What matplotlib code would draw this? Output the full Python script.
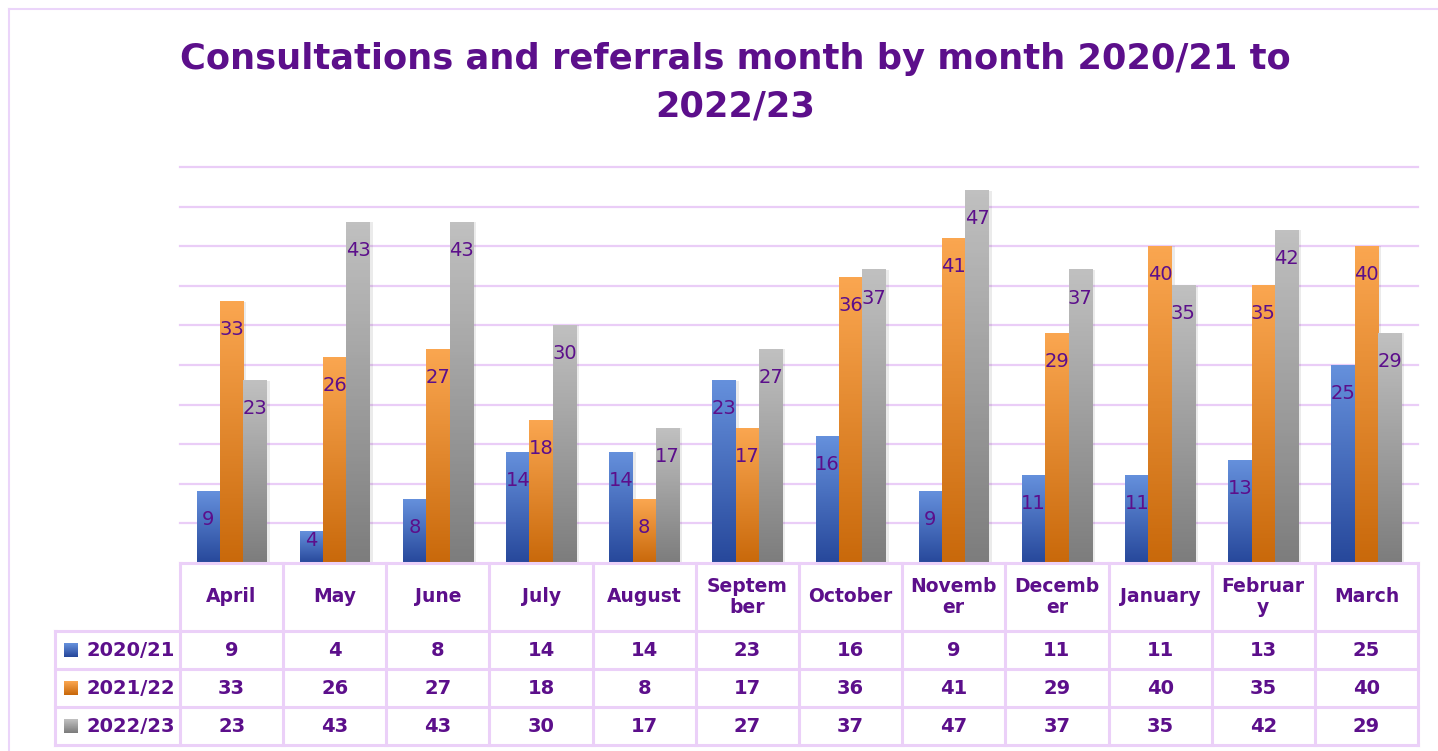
import numpy as np
import matplotlib
matplotlib.use("Agg")
import matplotlib.pyplot as plt
from matplotlib.colors import LinearSegmentedColormap
from matplotlib import transforms
from matplotlib.lines import Line2D
from matplotlib.patches import Rectangle

months = ["April", "May", "June", "July", "August", "September", "October",
          "November", "December", "January", "February", "March"]
month_labels = ["April", "May", "June", "July", "August", "Septem\nber", "October",
                "Novemb\ner", "Decemb\ner", "January", "Februar\ny", "March"]
series = ["2020/21", "2021/22", "2022/23"]
v2020 = [9, 4, 8, 14, 14, 23, 16, 9, 11, 11, 13, 25]
v2021 = [33, 26, 27, 18, 8, 17, 36, 41, 29, 40, 35, 40]
v2022 = [23, 43, 43, 30, 17, 27, 37, 47, 37, 35, 42, 29]
values = [v2020, v2021, v2022]

purple = "#5C0F8B"
grid_col = "#EACDF7"
# (top colour, bottom colour) for each series gradient
grads = [("#6590DC", "#27489B"), ("#FAA650", "#C9690B"), ("#C0C0C0", "#7D7D7D")]

W, H = 1438, 751
fig = plt.figure(figsize=(W / 100, H / 100), dpi=100)
ax = fig.add_axes([180 / W, (H - 563) / H, 1238 / W, 396 / H])

n = len(months)
x = np.arange(n)
bw = 0.226
offsets = [-bw, 0, bw]

for s, vals in enumerate(values):
    bars = ax.bar(x + offsets[s], vals, width=bw, color=grads[s][0], zorder=3,
                  linewidth=0)
    cmap = LinearSegmentedColormap.from_list("g%d" % s, [grads[s][1], grads[s][0]])
    for b, v in zip(bars, vals):
        x0, w, h = b.get_x(), b.get_width(), b.get_height()
        # soft shadow on the right
        ax.add_patch(Rectangle((x0 + w, 0), 0.03, h, color="#000000", alpha=0.08,
                               zorder=2, linewidth=0))
        ax.imshow(np.linspace(1, 0, 100).reshape(-1, 1), cmap=cmap, aspect="auto",
                  extent=[x0, x0 + w, 0, h], zorder=3.5, origin="upper")
        ax.text(x0 + w / 2, max(h - 3.55, 2.9), str(v), ha="center", va="center",
                color=purple, fontsize=14, zorder=5)

ax.set_xlim(-0.5, n - 0.5)
ax.set_ylim(0, 50)
for gy in np.arange(5, 51, 5):
    ax.axhline(gy, color=grid_col, linewidth=1.6, zorder=0, clip_on=False)
ax.tick_params(left=False, bottom=False, labelleft=False, labelbottom=False)
for sp in ["left", "right", "top"]:
    ax.spines[sp].set_visible(False)
ax.spines["bottom"].set_color(grid_col)
ax.spines["bottom"].set_linewidth(2)

# data table under the chart
tr = transforms.blended_transform_factory(ax.transData, ax.transAxes)
px = 1 / 396.0
y_rows = [0, -68 * px, -106 * px, -144 * px, -182 * px]
x_left = -0.5 - 125 / 103.17
tcol = "#EBD0F8"
tlw = 2.2

def tline(xs, ys):
    fig.add_artist(Line2D(xs, ys, transform=tr, color=tcol, lw=tlw, clip_on=False))

for yy in y_rows:
    tline([x_left if yy < y_rows[1] + 1e-9 else -0.5, n - 0.5], [yy, yy])
for xb in np.arange(-0.5, n, 1.0):
    tline([xb, xb], [y_rows[0], y_rows[-1]])
tline([x_left, x_left], [y_rows[1], y_rows[-1]])

for i, lab in enumerate(month_labels):
    ax.text(i, (y_rows[0] + y_rows[1]) / 2, lab, transform=tr, ha="center",
            va="center", color=purple, fontsize=13.5, fontweight="bold",
            linespacing=1.15)

for s, vals in enumerate(values):
    yc = (y_rows[s + 1] + y_rows[s + 2]) / 2
    for i, v in enumerate(vals):
        ax.text(i, yc, str(v), transform=tr, ha="center", va="center",
                color=purple, fontsize=14, fontweight="bold")
    # legend key
    cmap = LinearSegmentedColormap.from_list("k%d" % s, [grads[s][1], grads[s][0]])
    kax = fig.add_axes([64 / W, (H - (631 + 38 * s + 19) - 7) / H, 14 / W, 14 / H])
    kax.imshow(np.linspace(1, 0, 20).reshape(-1, 1), cmap=cmap, aspect="auto")
    kax.axis("off")
    fig.text(87 / W, 1 - (631 + 38 * s + 19) / H, series[s], ha="left",
             va="center", color=purple, fontsize=14, fontweight="bold")

# outer chart border
fig.add_artist(Line2D([9 / W, 9 / W], [0, 1 - 9 / H], transform=fig.transFigure,
                      color="#EBD5FA", lw=1.5))
fig.add_artist(Line2D([9 / W, 1], [1 - 9 / H, 1 - 9 / H], transform=fig.transFigure,
                      color="#EBD5FA", lw=1.5))

fig.text(735 / W, 1 - 83 / H,
         "Consultations and referrals month by month 2020/21 to\n2022/23",
         ha="center", va="center", color=purple, fontsize=25.4, fontweight="bold",
         linespacing=1.5)

fig.savefig("out.png", dpi=100)
